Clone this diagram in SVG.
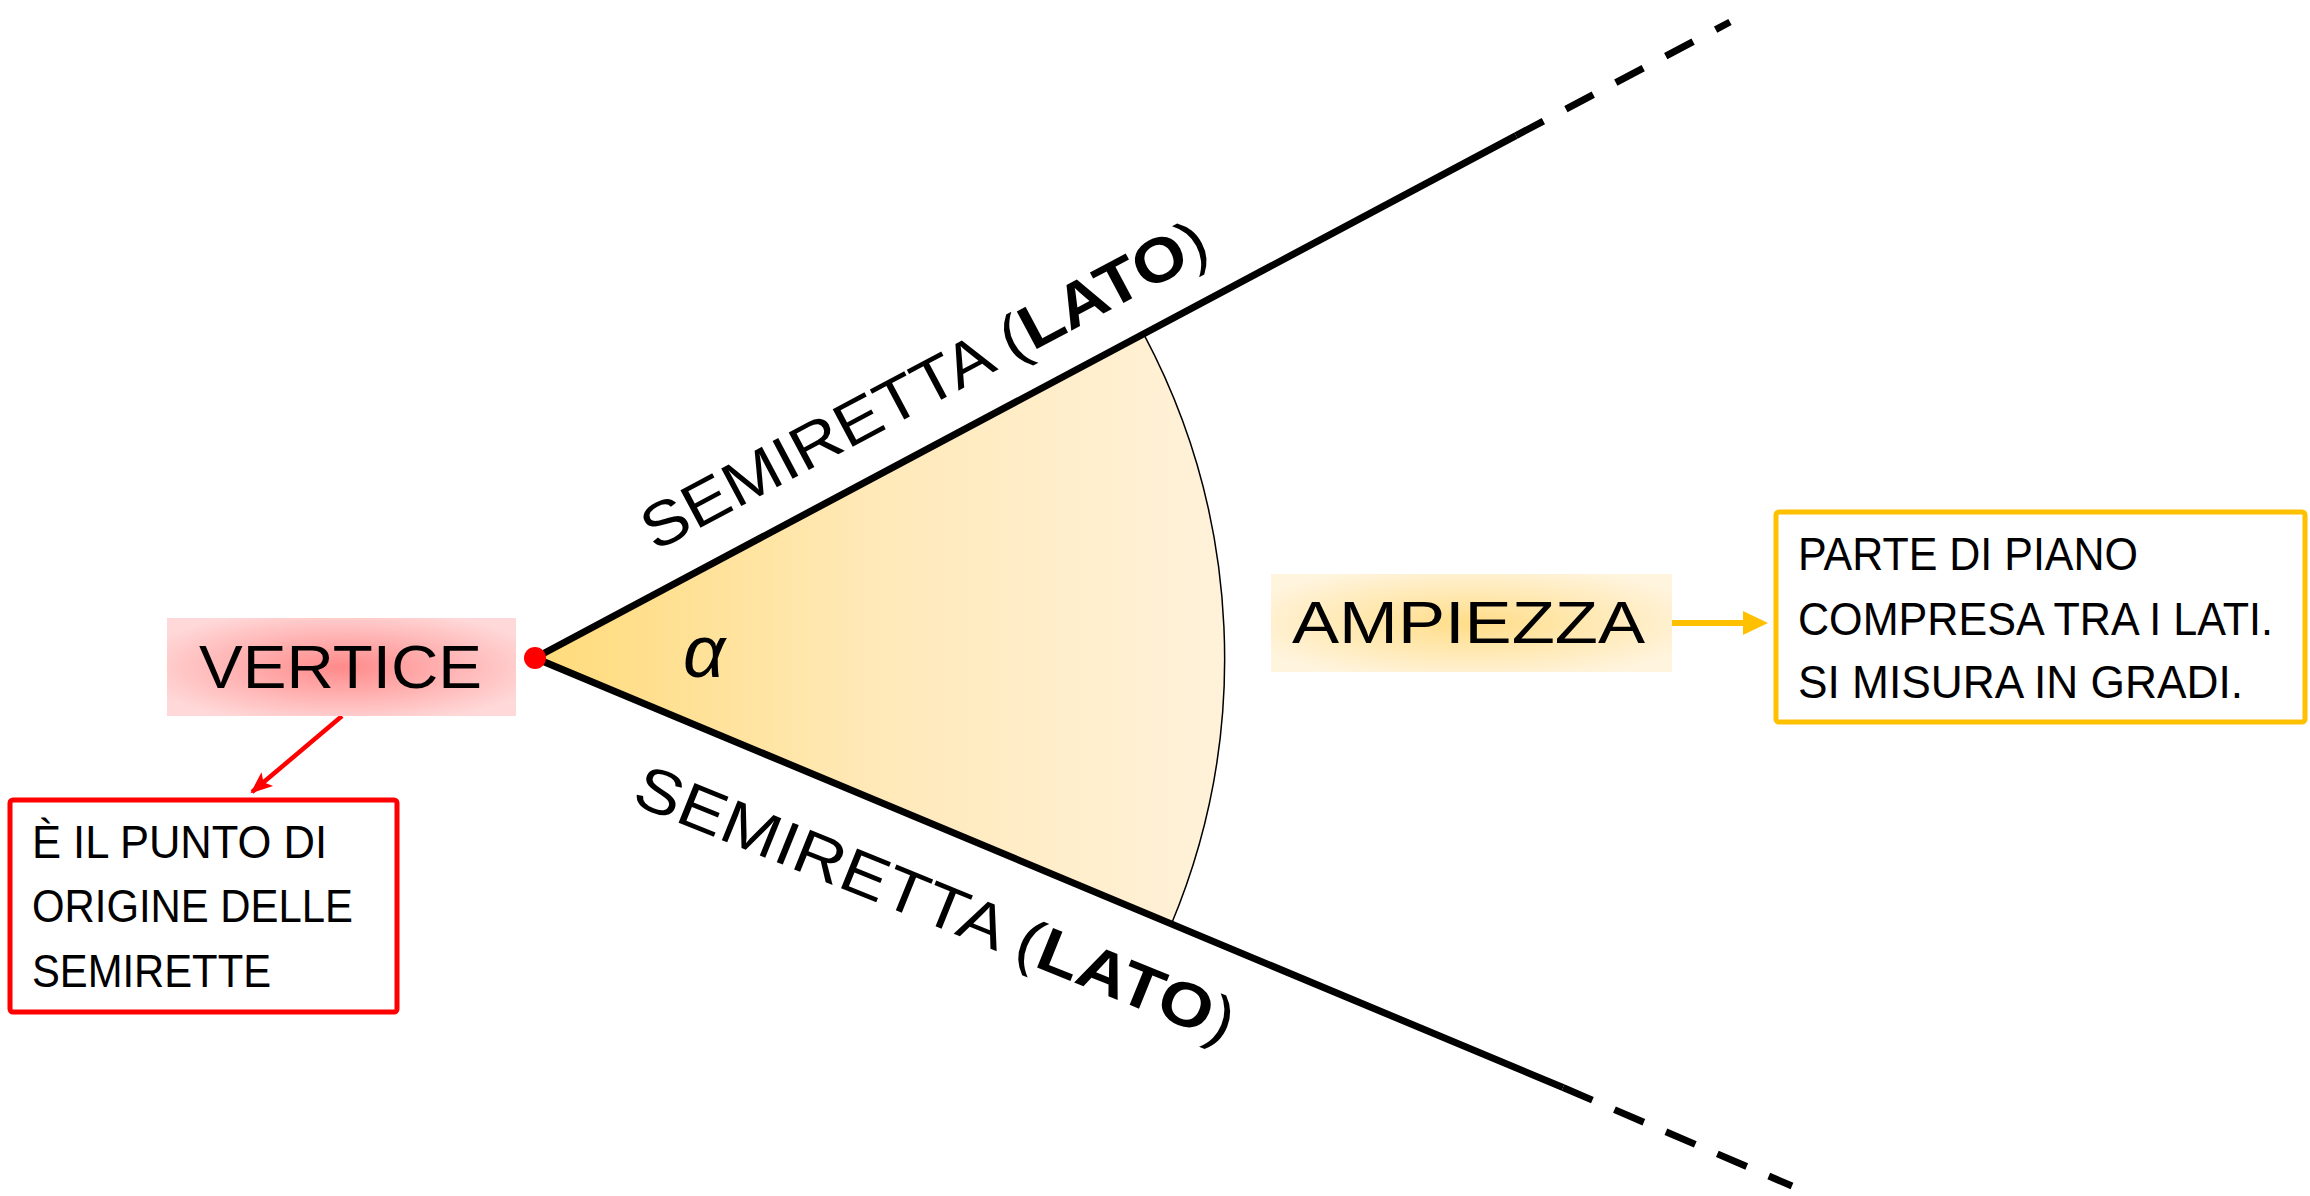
<svg xmlns="http://www.w3.org/2000/svg" width="2310" height="1196" viewBox="0 0 2310 1196">
  <style>
    .hand { font-family: "Liberation Sans", "DejaVu Sans", sans-serif; fill: #000; }
    .body { font-family: "Liberation Sans", "DejaVu Sans", sans-serif; font-size: 46px; fill: #000; }
    .ray { stroke: #000; stroke-width: 7; fill: none; }
  </style>
  <defs>
    <linearGradient id="sectorGrad" gradientUnits="userSpaceOnUse" x1="535" y1="0" x2="1225" y2="0">
      <stop offset="0" stop-color="#FFDB7A"/>
      <stop offset="0.5" stop-color="#FFE9B9"/>
      <stop offset="1" stop-color="#FFF2DA"/>
    </linearGradient>
    <radialGradient id="redGrad" cx="0.5" cy="0.5" r="0.6">
      <stop offset="0" stop-color="#FF8A8A"/>
      <stop offset="1" stop-color="#FFD9D9"/>
    </radialGradient>
    <radialGradient id="yelGrad" cx="0.5" cy="0.5" r="0.6">
      <stop offset="0" stop-color="#FFDD88"/>
      <stop offset="1" stop-color="#FFF4DE"/>
    </radialGradient>
    <marker id="redHead" markerUnits="userSpaceOnUse" markerWidth="24" markerHeight="24" viewBox="0 0 24 24" refX="20" refY="12" orient="auto">
      <path d="M0,3 L22,12 L0,21 L5,12 Z" fill="#FF0000"/>
    </marker>
  </defs>

  <g id="angle-sector">
    <path d="M535,658 L1144,334.6 A690,690 0 0 1 1171,925 Z" fill="url(#sectorGrad)" stroke="none"/>
    <path d="M1144,334.6 A690,690 0 0 1 1171,925" fill="none" stroke="#000" stroke-width="1.5"/>
    <text class="hand" x="683" y="677" font-size="74" font-style="italic" font-family="DejaVu Sans, sans-serif">α</text>
  </g>

  <g id="connectors">
    <path class="ray" d="M1516,135.6 L535,658 L1563,1087.5"/>
    <path class="ray" d="M1516,135.6 L1730,22" stroke-dasharray="31 25.5"/>
    <path class="ray" d="M1563,1087.5 L1792,1186" stroke-dasharray="32 24"/>
    <line x1="342" y1="716" x2="252" y2="792" stroke="#FF0000" stroke-width="4.5" marker-end="url(#redHead)"/>
    <line x1="1672" y1="623" x2="1746" y2="623" stroke="#FFC000" stroke-width="6"/>
    <path d="M1743,611 L1768,623 L1743,635 Z" fill="#FFC000"/>
  </g>

  <g id="vertex-point">
    <circle cx="535" cy="658" r="11" fill="#FF0000"/>
  </g>

  <g id="label-upper">
    <text class="hand" x="655" y="552" font-size="62" transform="rotate(-28 655 552)" textLength="632" lengthAdjust="spacingAndGlyphs">SEMIRETTA (<tspan font-weight="bold">LATO</tspan>)</text>
  </g>

  <g id="label-lower">
    <text class="hand" x="630" y="803" font-size="62" transform="rotate(22 630 803)" textLength="642" lengthAdjust="spacingAndGlyphs">SEMIRETTA (<tspan font-weight="bold">LATO</tspan>)</text>
  </g>

  <g id="vertice">
    <rect x="167" y="618" width="349" height="98" fill="url(#redGrad)"/>
    <text class="hand" x="199" y="688" font-size="62" textLength="283" lengthAdjust="spacingAndGlyphs">VERTICE</text>
  </g>

  <g id="vertice-def">
    <rect x="10" y="800" width="387" height="212" rx="3" fill="#FFFFFF" stroke="#FF0000" stroke-width="5"/>
    <text class="body" x="32" y="858" textLength="295" lengthAdjust="spacingAndGlyphs">È IL PUNTO DI</text>
    <text class="body" x="32" y="922" textLength="321" lengthAdjust="spacingAndGlyphs">ORIGINE DELLE</text>
    <text class="body" x="32" y="987" textLength="239" lengthAdjust="spacingAndGlyphs">SEMIRETTE</text>
  </g>

  <g id="ampiezza">
    <rect x="1271" y="574" width="401" height="98" fill="url(#yelGrad)"/>
    <text class="hand" x="1292" y="643" font-size="60" textLength="353" lengthAdjust="spacingAndGlyphs">AMPIEZZA</text>
  </g>

  <g id="ampiezza-def">
    <rect x="1776" y="512" width="529" height="210" rx="3" fill="#FFFFFF" stroke="#FFC000" stroke-width="5"/>
    <text class="body" x="1798" y="570" textLength="340" lengthAdjust="spacingAndGlyphs">PARTE DI PIANO</text>
    <text class="body" x="1798" y="635" textLength="475" lengthAdjust="spacingAndGlyphs">COMPRESA TRA I LATI.</text>
    <text class="body" x="1798" y="698" textLength="445" lengthAdjust="spacingAndGlyphs">SI MISURA IN GRADI.</text>
  </g>
</svg>
